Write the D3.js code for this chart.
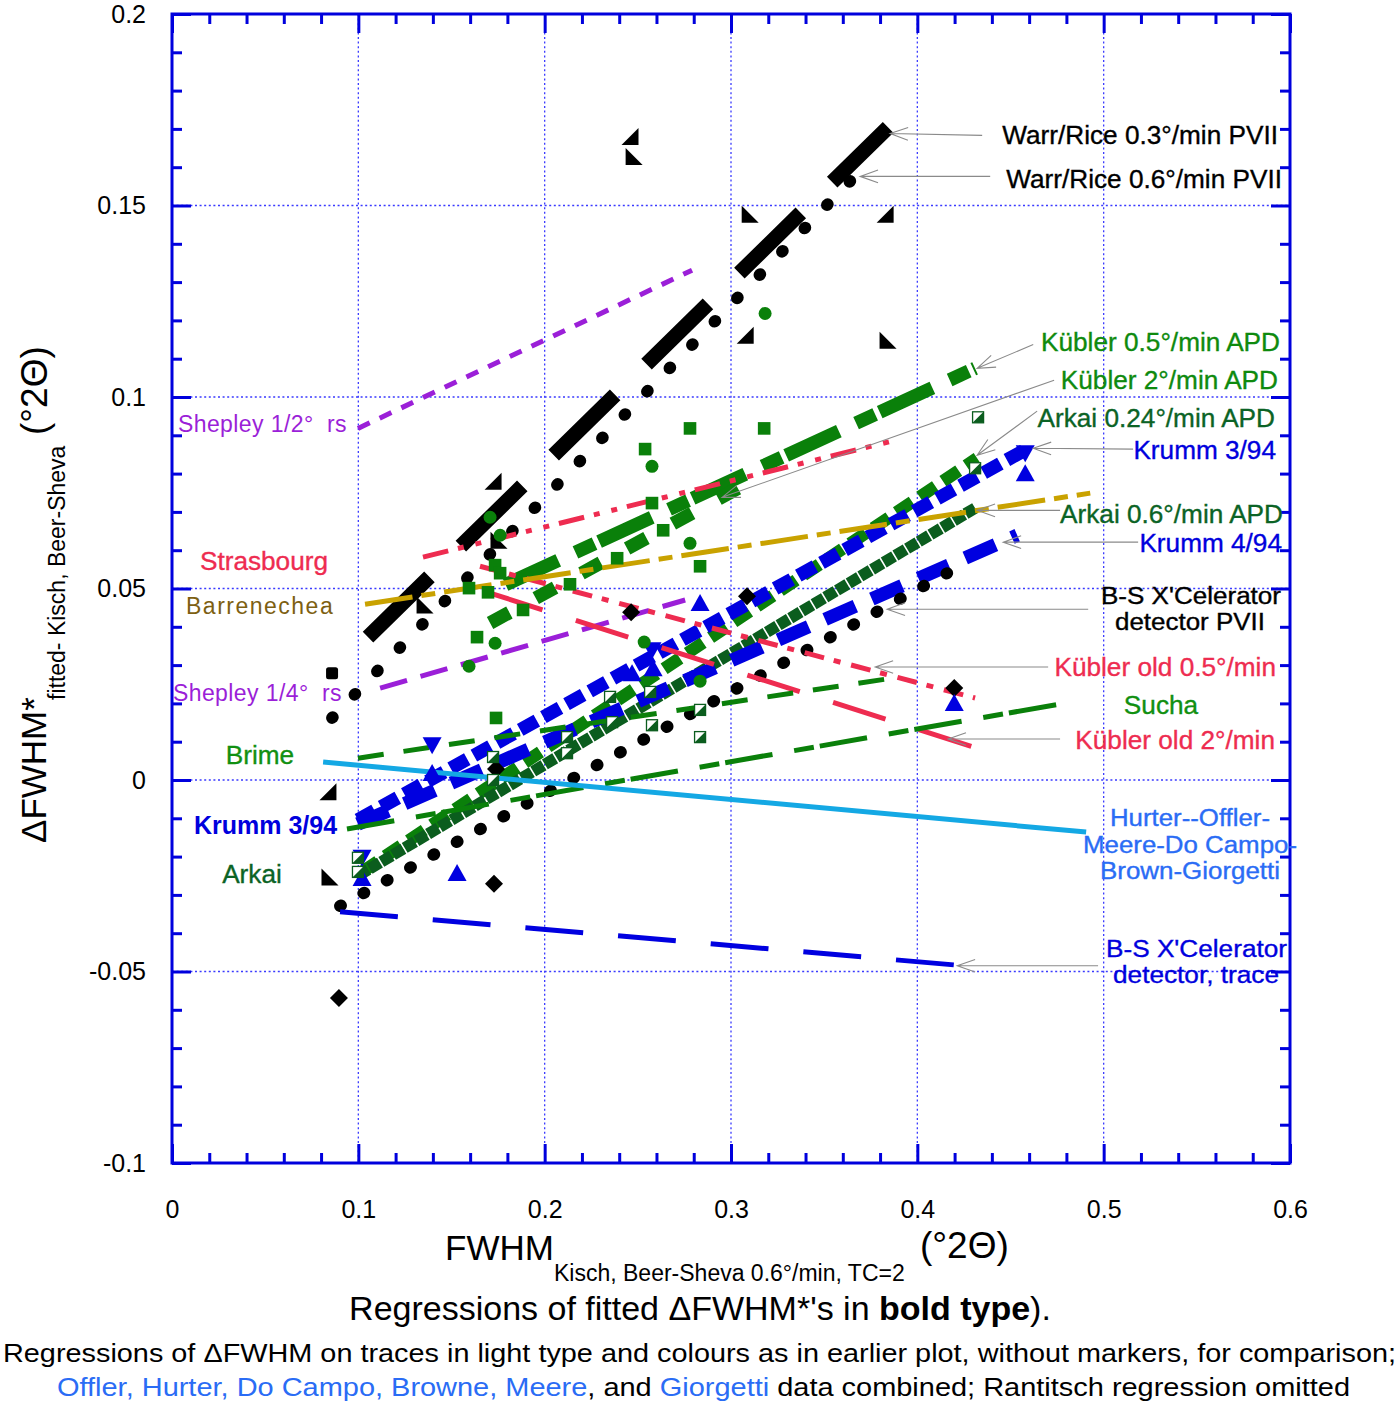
<!DOCTYPE html>
<html><head><meta charset="utf-8">
<script src="https://cdn.jsdelivr.net/npm/d3@7"></script>
<style>
body{margin:0;background:#fff}
text{font-family:"Liberation Sans",Arial,Helvetica,sans-serif}
</style>
</head><body>
<svg id="c" width="1400" height="1407" xmlns="http://www.w3.org/2000/svg"></svg>
<script>
// ---------- axis ticks ----------
const xTickValues=[0,0.1,0.2,0.3,0.4,0.5,0.6];
const xTickLabels=["0","0.1","0.2","0.3","0.4","0.5","0.6"];
const yTickValues=[-0.1,-0.05,0,0.05,0.1,0.15,0.2];
const yTickLabels=["-0.1","-0.05","0","0.05","0.1","0.15","0.2"];
const xGrid=[0.1,0.2,0.3,0.4,0.5];
const yGrid=[-0.05,0,0.05,0.1,0.15];

// ---------- bold regressions of fitted ΔFWHM* (endpoints [x,y]) ----------
const warrRice03=[[0.1052,0.0373],[0.3843,0.1704]];
const warrRice06=[[0.0859,0.0162],[0.3747,0.1618]];
const kubler05APD=[[0.1790,0.0510],[0.4310,0.1075]];
const kubler2APD=[[0.1707,0.0410],[0.3076,0.0772]];
const arkai024APD=[[0.1020,-0.0240],[0.4321,0.0840]];
const arkai06APD=[[0.0998,-0.0250],[0.4310,0.0710]];
const krumm394=[[0.0998,-0.0104],[0.4605,0.0869]];
const krumm494=[[0.0998,-0.0115],[0.4536,0.0639]];
const bsPVII=[[0.0902,-0.0329],[0.4160,0.0540]];

// ---------- light regressions on traces ----------
const shepley12=[[0.0998,0.0918],[0.2791,0.1331]];
const shepley14=[[0.1117,0.0240],[0.2754,0.0470]];
const strasbourg=[[0.1347,0.0582],[0.3881,0.0887]];
const kublerOld05=[[0.1653,0.0558],[0.4310,0.0214]];
const kublerOld2=[[0.1707,0.0488],[0.4353,0.0078]];
const barrenechea=[[0.1036,0.0459],[0.4928,0.0749]];
const brime=[[0.0998,0.0057],[0.3908,0.0269]];
const sucha=[[0.0939,-0.0128],[0.4831,0.0204]];
const hurterCombined=[[0.0811,0.0047],[0.4906,-0.0136]];
const bsTrace=[[0.0902,-0.0344],[0.4203,-0.0483]];

// ---------- scatter points ----------
const blackTriLR=[[0.2458,0.1680],[0.3076,0.1161],[0.3827,0.1477],[0.1723,0.0780],[0.0837,-0.0031]];
const blackTriLL=[[0.2480,0.1628],[0.3103,0.1477],[0.3843,0.1148],[0.1755,0.0626],[0.1358,0.0457],[0.0848,-0.0253]];
const blackDiamonds=[[0.0896,-0.0569],[0.1728,-0.0271],[0.1739,0.0029],[0.2464,0.0438],[0.3086,0.0480],[0.4198,0.0240]];
const blackSquares=[[0.0859,0.0279]];
const blueUp=[[0.2834,0.0462],[0.1530,-0.0243],[0.1396,0.0018],[0.4579,0.0801],[0.4198,0.0201],[0.2469,0.0279],[0.2582,0.0292],[0.1020,-0.0256]];
const blueDown=[[0.1396,0.0091],[0.4579,0.0853],[0.2576,0.0339],[0.1020,-0.0203]];
const greenCircles=[[0.3183,0.1218],[0.2576,0.0819],[0.2780,0.0618],[0.1707,0.0686],[0.1761,0.0639],[0.1594,0.0297],[0.1734,0.0357],[0.2534,0.0360],[0.2834,0.0258]];
const greenSquares=[[0.1594,0.0501],[0.1696,0.0490],[0.1734,0.0561],[0.1761,0.0540],[0.1884,0.0444],[0.1637,0.0373],[0.2136,0.0511],[0.2389,0.0579],[0.2636,0.0652],[0.2576,0.0723],[0.2834,0.0558],[0.1739,0.0162],[0.2539,0.0864],[0.2780,0.0918],[0.3178,0.0918]];
const halfSquares=[[0.2351,0.0217],[0.2566,0.0230],[0.2362,0.0151],[0.2576,0.0143],[0.2120,0.0112],[0.2120,0.0070],[0.2834,0.0183],[0.2834,0.0112],[0.1723,0.0060],[0.1723,0.0000],[0.0998,-0.0203],[0.0998,-0.0240],[0.4326,0.0947],[0.4310,0.0814]];

// ---------- annotation arrows (label -> line, data units) ----------
const arrows=[
 [[0.4348,0.1683],[0.3854,0.1688]],
 [[0.4391,0.1576],[0.3693,0.1576]],
 [[0.4622,0.1137],[0.4321,0.1075]],
 [[0.4734,0.1044],[0.2952,0.0738]],
 [[0.4643,0.0963],[0.4321,0.0848]],
 [[0.5158,0.0864],[0.4622,0.0866]],
 [[0.4766,0.0704],[0.4321,0.0704]],
 [[0.5185,0.0621],[0.4461,0.0621]],
 [[0.4917,0.0446],[0.3838,0.0446]],
 [[0.4702,0.0295],[0.3774,0.0295]],
 [[0.4766,0.0107],[0.4165,0.0107]],
 [[0.4970,-0.0485],[0.4214,-0.0485]]
];

// ---------- colours ----------
const C={black:"#000",green:"#0a800a",dkgreen:"#0b5d1e",blue:"#0000e0",red:"#ee2c50",gold:"#c9a200",purple:"#9b1fd8",cyan:"#14a8e4",frame:"#0000dd",grid:"#3a3aff"};

const svg=d3.select("#c");
const x=d3.scaleLinear().domain([0,0.6]).range([172,1290]);
const y=d3.scaleLinear().domain([-0.1,0.2]).range([1163,14]);

// grid
const g=svg.append("g");
g.selectAll(".vg").data(xGrid).join("line").attr("x1",d=>x(d)).attr("x2",d=>x(d)).attr("y1",y(0.2)).attr("y2",y(-0.1))
 .attr("stroke",C.grid).attr("stroke-width",1.3).attr("stroke-dasharray","2,2.6");
g.selectAll(".hg").data(yGrid).join("line").attr("y1",d=>y(d)).attr("y2",d=>y(d)).attr("x1",x(0)).attr("x2",x(0.6))
 .attr("stroke",C.grid).attr("stroke-width",1.3).attr("stroke-dasharray","2,2.6");

// axes ticks via d3.axis
const xMinor=d3.range(0,0.6001,0.02).filter(v=>Math.abs(v*10-Math.round(v*10))>1e-6);
const yMinor=d3.range(-0.1,0.2001,0.01).filter(v=>Math.abs(v*20-Math.round(v*20))>1e-6);
function styleAxis(sel){sel.select(".domain").remove();sel.selectAll("line").attr("stroke",C.frame).attr("stroke-width",3);}
svg.append("g").attr("transform",`translate(0,${y(-0.1)})`).call(d3.axisTop(x).tickValues(xTickValues).tickSize(19).tickFormat("")).call(styleAxis);
svg.append("g").attr("transform",`translate(0,${y(-0.1)})`).call(d3.axisTop(x).tickValues(xMinor).tickSize(10).tickFormat("")).call(styleAxis);
svg.append("g").attr("transform",`translate(0,${y(0.2)})`).call(d3.axisBottom(x).tickValues(xTickValues).tickSize(19).tickFormat("")).call(styleAxis);
svg.append("g").attr("transform",`translate(0,${y(0.2)})`).call(d3.axisBottom(x).tickValues(xMinor).tickSize(10).tickFormat("")).call(styleAxis);
svg.append("g").attr("transform",`translate(${x(0)},0)`).call(d3.axisRight(y).tickValues(yTickValues).tickSize(19).tickFormat("")).call(styleAxis);
svg.append("g").attr("transform",`translate(${x(0)},0)`).call(d3.axisRight(y).tickValues(yMinor).tickSize(10).tickFormat("")).call(styleAxis);
svg.append("g").attr("transform",`translate(${x(0.6)},0)`).call(d3.axisLeft(y).tickValues(yTickValues).tickSize(19).tickFormat("")).call(styleAxis);
svg.append("g").attr("transform",`translate(${x(0.6)},0)`).call(d3.axisLeft(y).tickValues(yMinor).tickSize(10).tickFormat("")).call(styleAxis);

// tick labels via axes
const xl=svg.append("g").attr("transform",`translate(0,${y(-0.1)})`)
 .call(d3.axisBottom(x).tickValues(xTickValues).tickSize(0).tickPadding(37).tickFormat((d,i)=>xTickLabels[i]));
xl.select(".domain").remove();
xl.selectAll("text").attr("font-size",25).attr("font-family","Liberation Sans, Arial").attr("fill","#000");
const yl=svg.append("g").attr("transform",`translate(${x(0)},0)`)
 .call(d3.axisLeft(y).tickValues(yTickValues).tickSize(0).tickPadding(26).tickFormat((d,i)=>yTickLabels[i]));
yl.select(".domain").remove();
yl.selectAll("text").attr("font-size",25).attr("font-family","Liberation Sans, Arial").attr("fill","#000");

// frame
svg.append("rect").attr("x",x(0)).attr("y",y(0.2)).attr("width",x(0.6)-x(0)).attr("height",y(-0.1)-y(0.2))
 .attr("fill","none").attr("stroke",C.frame).attr("stroke-width",3);

const line=d3.line().x(d=>x(d[0])).y(d=>y(d[1]));
const plot=svg.append("g");
function drawLine(data,color,w,dash,cap){
  plot.append("path").attr("d",line(data)).attr("fill","none").attr("stroke",color).attr("stroke-width",w)
   .attr("stroke-dasharray",dash||null).attr("stroke-linecap",cap||"butt").attr("stroke-linejoin","bevel");
}
// bold
drawLine(warrRice03,C.black,15,"86,44");
drawLine(warrRice06,C.black,12,"1,31.4","round");
drawLine(kubler05APD,C.green,13.5,"58,19,21,5");
drawLine(kubler2APD,C.green,13.5,"22,30");
drawLine(arkai024APD,C.green,12.5,"19,9");
drawLine(arkai06APD,C.dkgreen,11.5,"12,1.6");
drawLine(krumm394,C.blue,13.5,"19,7.5");
drawLine(krumm494,C.blue,13.5,"33,18");
drawLine(bsPVII,C.black,12,"1,25.6","round");
// light
drawLine(shepley12,C.purple,5,"13,11");
drawLine(shepley14,C.purple,5,"28,14");
drawLine(strasbourg,C.red,5,"26,10,6,12,6,10");
drawLine(kublerOld05,C.red,5,"20,10,7,11");
drawLine(kublerOld2,C.red,5,"55,35");
drawLine(barrenechea,C.gold,5,"48,9,14,9");
drawLine(brime,C.green,5,"26,20");
drawLine(sucha,C.green,5,"48,22,20,6");
drawLine(hurterCombined,C.cyan,5,null);
drawLine(bsTrace,C.blue,5,"58,35");

// markers
const mk=svg.append("g");
function pts(data,fn){data.forEach(d=>fn(x(d[0]),y(d[1])));}
const s=8.5;
pts(blackTriLR,(px,py)=>mk.append("path").attr("d",`M${px+s},${py-s}L${px+s},${py+s}L${px-s},${py+s}Z`).attr("fill","#000"));
pts(blackTriLL,(px,py)=>mk.append("path").attr("d",`M${px-s},${py-s}L${px-s},${py+s}L${px+s},${py+s}Z`).attr("fill","#000"));
pts(blackSquares,(px,py)=>mk.append("rect").attr("x",px-6).attr("y",py-6).attr("width",12).attr("height",12).attr("rx",2.5).attr("fill","#000"));
pts(blackDiamonds,(px,py)=>mk.append("path").attr("d",`M${px},${py-9}L${px+9},${py}L${px},${py+9}L${px-9},${py}Z`).attr("fill","#000"));
pts(blueUp,(px,py)=>mk.append("path").attr("d",`M${px},${py-9}L${px+9.5},${py+8}L${px-9.5},${py+8}Z`).attr("fill",C.blue));
pts(blueDown,(px,py)=>mk.append("path").attr("d",`M${px},${py+9}L${px+9.5},${py-8}L${px-9.5},${py-8}Z`).attr("fill",C.blue));
pts(greenCircles,(px,py)=>mk.append("circle").attr("cx",px).attr("cy",py).attr("r",6.5).attr("fill",C.green));
pts(greenSquares,(px,py)=>mk.append("rect").attr("x",px-6.3).attr("y",py-6.3).attr("width",12.6).attr("height",12.6).attr("fill",C.green));
pts(halfSquares,(px,py)=>{
  mk.append("rect").attr("x",px-5.5).attr("y",py-5.5).attr("width",11).attr("height",11).attr("fill","#fff").attr("stroke",C.dkgreen).attr("stroke-width",1.3);
  mk.append("path").attr("d",`M${px+5.5},${py-5.5}L${px+5.5},${py+5.5}L${px-5.5},${py+5.5}Z`).attr("fill",C.dkgreen);
});

// arrows
const ar=svg.append("g").attr("stroke","#8a8a8a").attr("stroke-width",1.1).attr("fill","none");
arrows.forEach(a=>{
  const fx=x(a[0][0]),fy=y(a[0][1]),tx=x(a[1][0]),ty=y(a[1][1]);
  const ang=Math.atan2(fy-ty,fx-tx),L=19,h=0.34;
  ar.append("path").attr("d",`M${fx},${fy}L${tx},${ty}M${tx+L*Math.cos(ang+h)},${ty+L*Math.sin(ang+h)}L${tx},${ty}L${tx+L*Math.cos(ang-h)},${ty+L*Math.sin(ang-h)}`);
});

// single-line labels
const labels=[
 ["Warr/Rice 0.3°/min PVII",1278,144,"end","#000"],
 ["Warr/Rice 0.6°/min PVII",1282,188,"end","#000"],
 ["Kübler 0.5°/min APD",1280,351,"end","#0e8a0e"],
 ["Kübler 2°/min APD",1278,389,"end","#0e8a0e"],
 ["Arkai 0.24°/min APD",1275,427,"end","#0b6325"],
 ["Krumm 3/94",1276,459,"end","#0000dd"],
 ["Arkai 0.6°/min APD",1283,523,"end","#0b6325"],
 ["Krumm 4/94",1282,552,"end","#0000dd"],
 ["Kübler old 0.5°/min",1276,676,"end","#ee2c50"],
 ["Sucha",1161,714,"middle","#119011"],
 ["Kübler old 2°/min",1275,749,"end","#ee2c50"],
 ["Strasbourg",264,570,"middle","#ee2c50"],
 ["Brime",260,764,"middle","#119011"],
 ["Arkai",252,883,"middle","#0b6325"]
];
// multi-line labels: [text, left x, baseline, width, colour]
const stacked=[
 ["B-S X'Celerator",1101,604,180,"#000"],
 ["detector PVII",1115,630,150,"#000"],
 ["Hurter--Offler-",1110,826,160,"#2a6cf5"],
 ["Meere-Do Campo-",1083,853,214,"#2a6cf5"],
 ["Brown-Giorgetti",1100,879,180,"#2a6cf5"],
 ["B-S X'Celerator",1106,957,181,"#0000dd"],
 ["detector, trace",1113,983,166,"#0000dd"]
];
const tl=svg.append("g");
labels.forEach(l=>tl.append("text").text(l[0]).attr("x",l[1]).attr("y",l[2]).attr("text-anchor",l[3]).attr("fill",l[4]).attr("font-size",26.2).attr("stroke",l[4]).attr("stroke-width",0.35));
stacked.forEach(l=>tl.append("text").text(l[0]).attr("x",l[1]).attr("y",l[2]).attr("fill",l[4]).attr("font-size",23)
 .attr("textLength",l[3]).attr("lengthAdjust","spacingAndGlyphs").attr("stroke",l[4]).attr("stroke-width",0.35));
tl.append("text").text("Krumm 3/94").attr("x",194).attr("y",834).attr("fill","#0000dd").attr("font-size",25).attr("font-weight","bold");
tl.append("text").text("Shepley 1/2°  rs").attr("x",178).attr("y",432).attr("fill",C.purple).attr("font-size",23).attr("letter-spacing",0.4).style("white-space","pre");
tl.append("text").text("Shepley 1/4°  rs").attr("x",173).attr("y",701).attr("fill",C.purple).attr("font-size",23).attr("letter-spacing",0.4).style("white-space","pre");
tl.append("text").text("Barrenechea").attr("x",186).attr("y",614).attr("fill","#7d5f12").attr("font-size",23).attr("letter-spacing",1.5);

// axis titles
const xt=svg.append("g");
xt.append("text").text("FWHM").attr("x",445).attr("y",1260).attr("font-size",35);
xt.append("text").text("Kisch, Beer-Sheva 0.6°/min, TC=2").attr("x",554).attr("y",1281).attr("font-size",23);
xt.append("text").text("(°2Θ)").attr("x",920).attr("y",1258).attr("font-size",37);
svg.append("text").text("ΔFWHM*").attr("transform","translate(46,843) rotate(-90)").attr("font-size",35);
svg.append("text").text("fitted- Kisch, Beer-Sheva").attr("transform","translate(65,700) rotate(-90)").attr("font-size",23);
svg.append("text").text("(°2Θ)").attr("transform","translate(47,435) rotate(-90)").attr("font-size",37);

// captions
const c1=svg.append("text").attr("x",700).attr("y",1320).attr("text-anchor","middle").attr("font-size",34);
c1.append("tspan").text("Regressions of fitted ΔFWHM*'s in ");
c1.append("tspan").text("bold type").attr("font-weight","bold");
c1.append("tspan").text(").");
svg.append("text").text("Regressions of ΔFWHM on traces in light type and colours as in earlier plot, without markers, for comparison;")
 .attr("x",3).attr("y",1362).attr("font-size",25).attr("textLength",1393).attr("lengthAdjust","spacingAndGlyphs");
const c3=svg.append("text").attr("x",57).attr("y",1396).attr("font-size",25).attr("textLength",1293).attr("lengthAdjust","spacingAndGlyphs");
[["Offler, Hurter, Do Campo, Browne, Meere","#2a6cf5"],[", and ","#000"],["Giorgetti","#2a6cf5"],[" data combined; Rantitsch regression omitted","#000"]]
 .forEach(p=>c3.append("tspan").text(p[0]).attr("fill",p[1]));
</script>
</body></html>
